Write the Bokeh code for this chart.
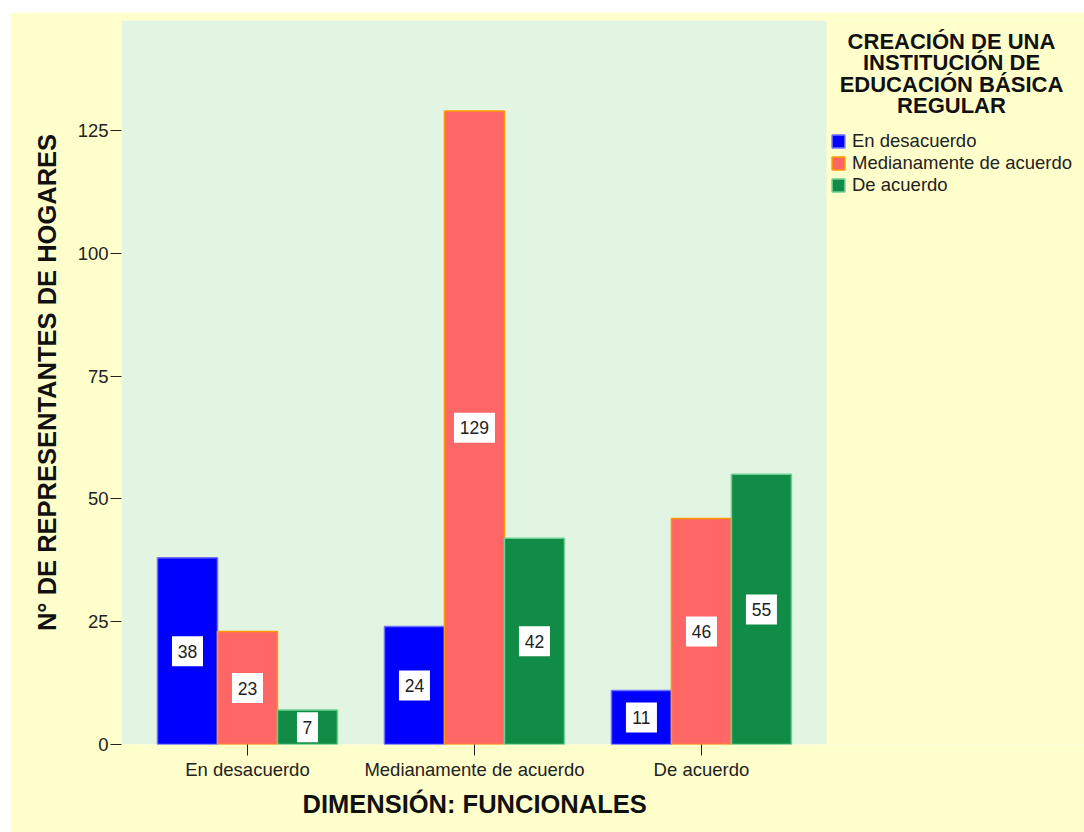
from bokeh.plotting import figure
from bokeh.models import (Range1d, FixedTicker, Label, Legend, LegendItem,
                          ColumnDataSource, BoxAnnotation, Title)
from bokeh.core.properties import value
from bokeh.embed import file_html
from bokeh.resources import INLINE

# Data
categories = ["En desacuerdo", "Medianamente de acuerdo", "De acuerdo"]
series_names = ["En desacuerdo", "Medianamente de acuerdo", "De acuerdo"]
en_desacuerdo = [38, 24, 11]
medianamente = [23, 129, 46]
de_acuerdo = [7, 42, 55]
y_ticks = [0, 25, 50, 75, 100, 125]

series_values = [en_desacuerdo, medianamente, de_acuerdo]
fills = ["#0000FF", "#FF6666", "#108C46"]
edges = ["#7070FF", "#FF9900", "#6ED08E"]

FONT = "Liberation Sans"
YELLOW = "#FFFFCC"

# Extents of the shaded chart area (data units); the frame continues to the
# right so that the legend can sit beside the chart without being clipped.
AREA_LEFT, AREA_RIGHT = 0.445, 3.551

p = figure(width=1074, height=820, margin=(12, 0, 0, 10),
           output_backend="svg", toolbar_location=None,
           x_range=Range1d(AREA_LEFT, 4.6876), y_range=Range1d(0, 147.4),
           min_border_left=111, min_border_right=0,
           min_border_top=8, min_border_bottom=88)
p.background_fill_color = YELLOW
p.border_fill_color = YELLOW
p.outline_line_color = None
p.grid.grid_line_color = None

p.add_layout(BoxAnnotation(left=AREA_LEFT, right=AREA_RIGHT,
                           fill_color="#E2F4E2", fill_alpha=1,
                           line_color=None, level="underlay"))

bar_w = 0.2643
offsets = [-bar_w, 0.0, bar_w]
renderers = []
for vals, off, fc, ec in zip(series_values, offsets, fills, edges):
    xs = [i + 1 + off for i in range(len(categories))]
    src = ColumnDataSource(dict(x=xs, top=vals, mid=[v / 2 for v in vals],
                                txt=[str(v) for v in vals],
                                bw=[len(str(v)) * 10 + 11 for v in vals]))
    r = p.vbar(x="x", top="top", bottom=0, width=bar_w, source=src,
               fill_color=fc, line_color=ec, line_width=1.5)
    renderers.append(r)
    p.rect(x="x", y="mid", width="bw", height=30, width_units="screen",
           height_units="screen", source=src, fill_color="white",
           line_color=None)
    p.text(x="x", y="mid", text="txt", source=src, text_align="center",
           text_baseline="middle", text_font=value(FONT),
           text_font_size="17.5px", text_color="#222222")

# Axes
p.xaxis.ticker = FixedTicker(ticks=[1, 2, 3])
p.xaxis.major_label_overrides = {i + 1: c for i, c in enumerate(categories)}
p.yaxis.ticker = FixedTicker(ticks=y_ticks)
for ax in (p.xaxis[0], p.yaxis[0]):
    ax.axis_line_color = None
    ax.minor_tick_line_color = None
    ax.major_tick_in = 0
    ax.major_tick_out = 11
    ax.major_tick_line_color = "#222222"
    ax.major_label_text_font = FONT
    ax.major_label_text_font_size = "18.5px"
    ax.major_label_text_color = "#222222"
p.yaxis.axis_label = "N° DE REPRESENTANTES DE HOGARES"
p.yaxis.axis_label_text_font = FONT
p.yaxis.axis_label_text_font_style = "bold"
p.yaxis.axis_label_text_font_size = "25.5px"
p.yaxis.axis_label_text_color = "#111111"
p.xaxis.major_label_standoff = 3
p.yaxis.major_label_standoff = 2
p.yaxis.axis_label_standoff = 14

# x-axis title, centred under the shaded chart area
p.add_layout(Title(text="DIMENSIÓN: FUNCIONALES", align="left", offset=181,
                   standoff=10, text_font=FONT, text_font_style="bold",
                   text_font_size="25.5px", text_color="#111111"), "below")

# Legend beside the chart area
legend = Legend(items=[LegendItem(label=n, renderers=[r])
                       for n, r in zip(series_names, renderers)],
                location=(705, 544), margin=0, padding=4, spacing=0,
                glyph_width=16, glyph_height=16, label_height=22,
                label_standoff=6, label_text_font=FONT,
                label_text_font_size="18.5px", label_text_color="#222222",
                background_fill_alpha=0, border_line_alpha=0)
p.add_layout(legend)

title_lines = ["CREACIÓN DE UNA", "INSTITUCIÓN DE",
               "EDUCACIÓN BÁSICA", "REGULAR"]
for k, line in enumerate(title_lines):
    p.add_layout(Label(x=830, y=703 - k * 21.3,
                       x_units="screen", y_units="screen", text=line,
                       text_align="center", text_baseline="middle",
                       text_font=FONT, text_font_style="bold",
                       text_font_size="22px", text_color="#111111"))

open("out.html", "w").write(file_html(p, INLINE))
